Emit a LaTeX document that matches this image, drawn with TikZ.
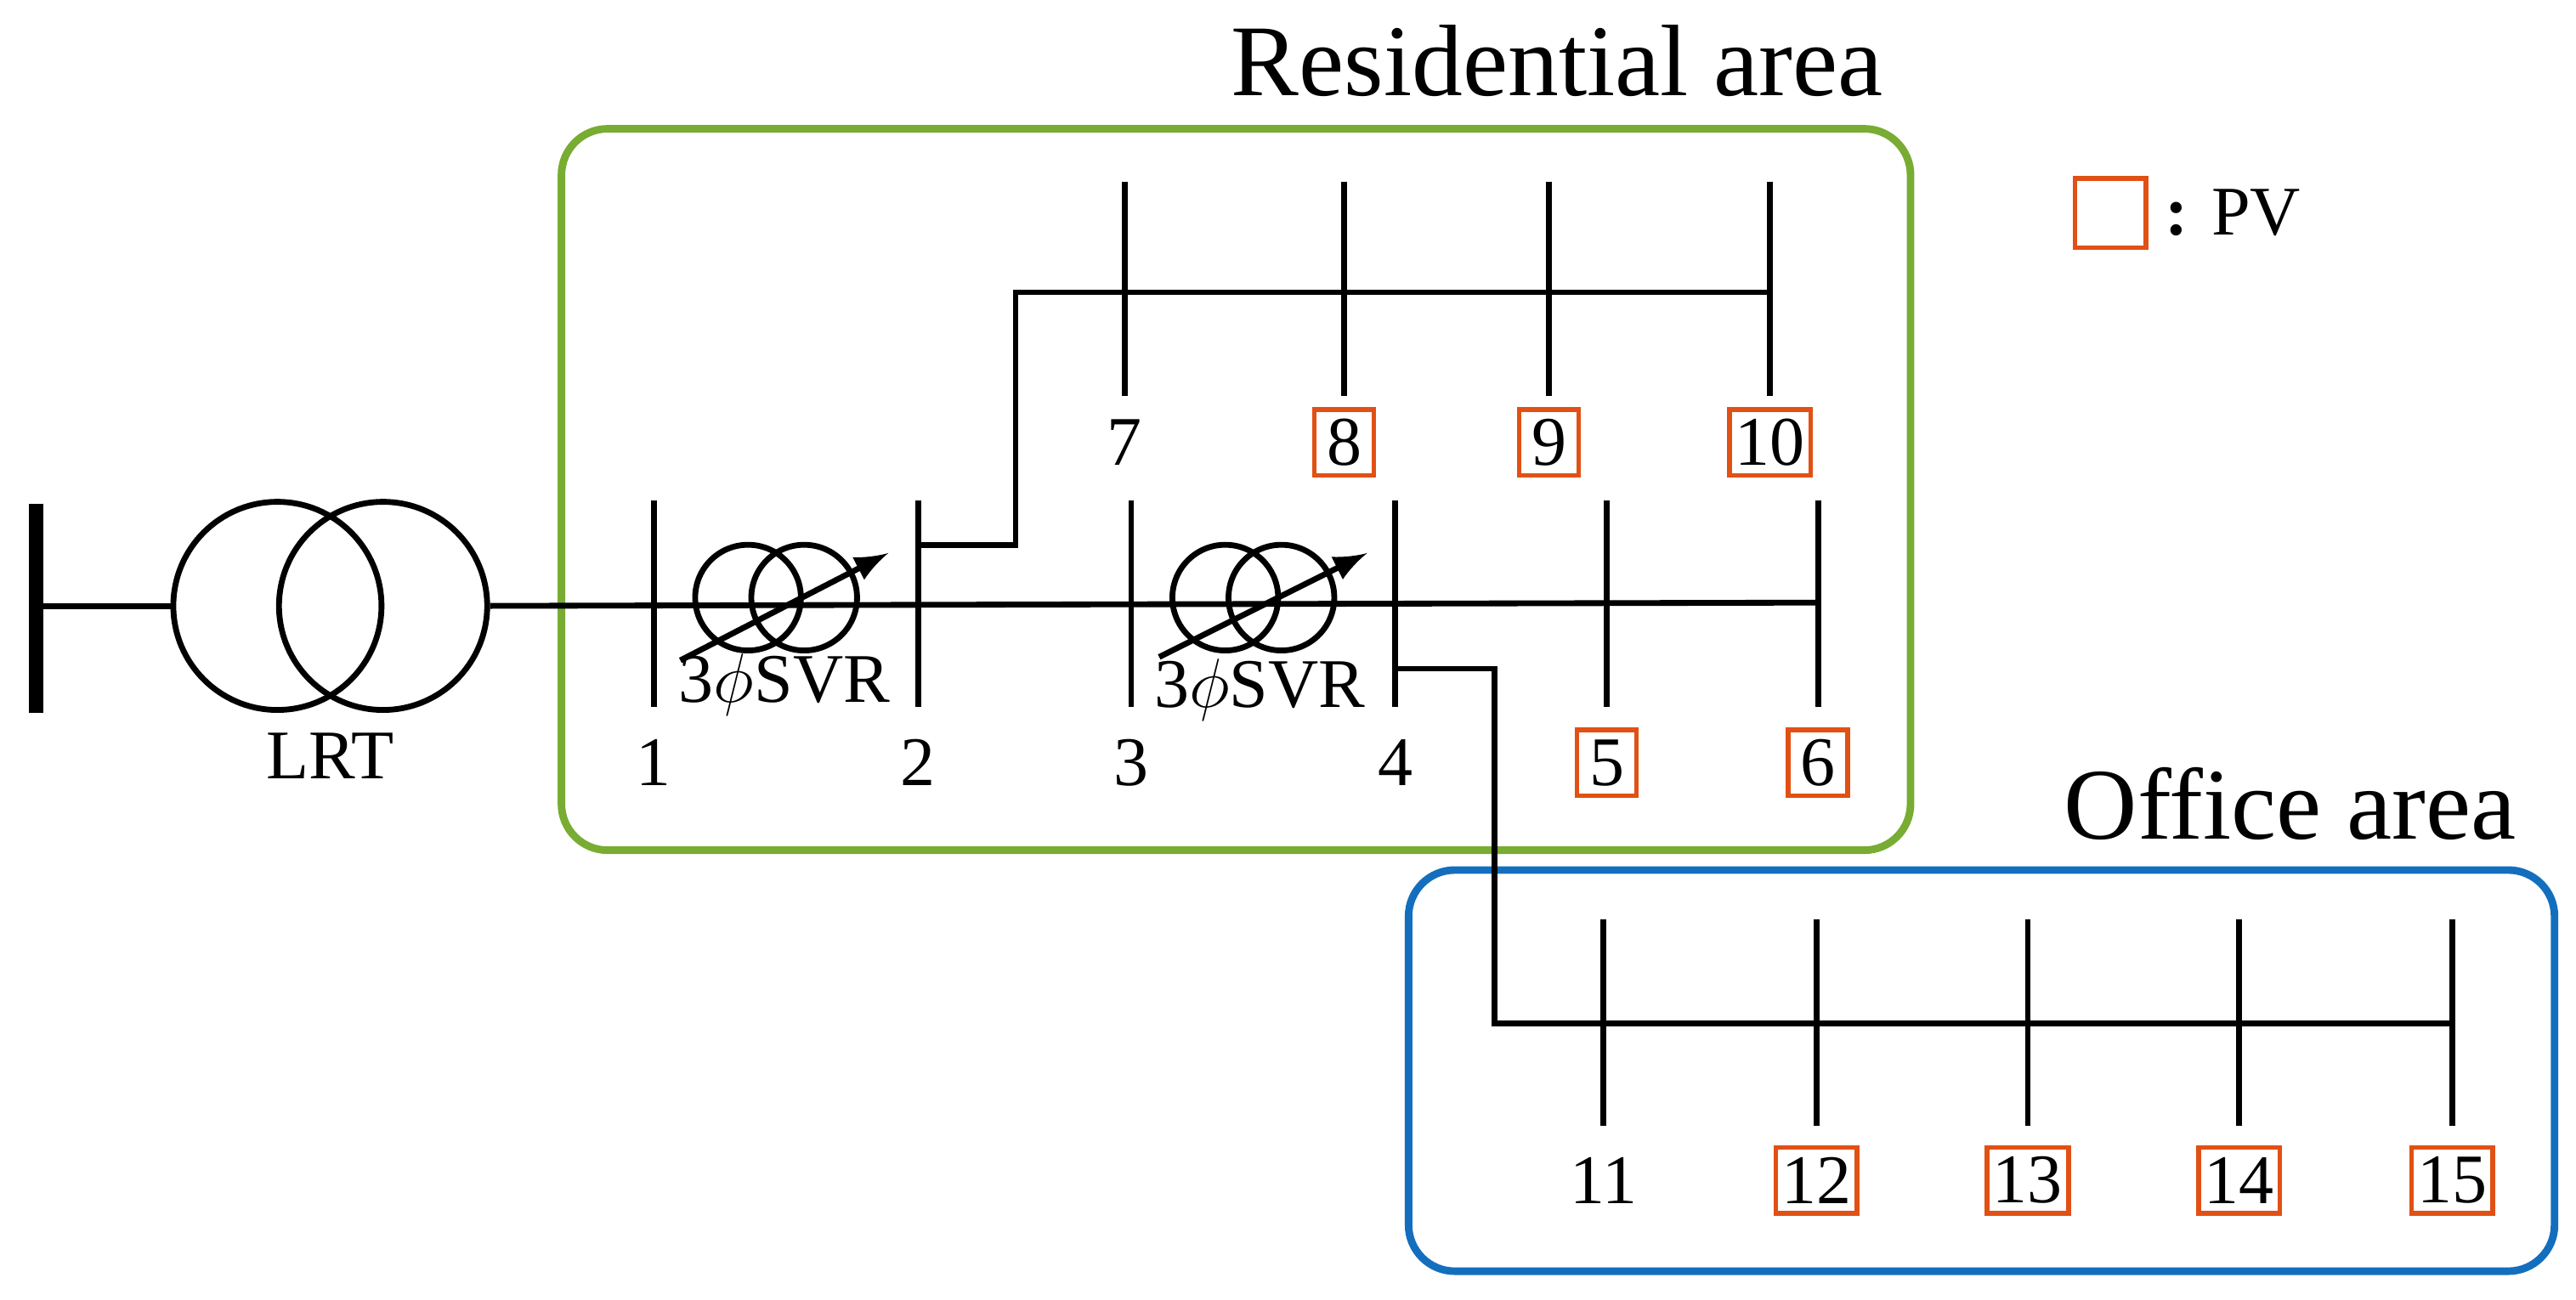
\documentclass[tikz,border=0pt]{standalone}
\usepackage{fontspec}
\setmainfont{Liberation Serif}
\begin{document}
\begin{tikzpicture}[x=0.01cm,y=-0.01cm,
  ln/.style={line width=1pt},
  bus/.style={line width=1pt},
  lab/.style={font=\fontsize{12}{14}\selectfont,inner sep=1pt},
  pv/.style={lab,draw=pvc,line width=0.8pt,minimum width=0.36cm,minimum height=0.40cm,inner sep=1pt},
  ttl/.style={font=\fontsize{17.5}{21}\selectfont},
  area/.style={line width=1.3pt,rounded corners=0.28cm}]
\definecolor{pvc}{RGB}{225,80,20}
\definecolor{grn}{RGB}{120,172,50}
\definecolor{blu}{RGB}{20,110,190}
\useasboundingbox (0,0) rectangle (1560,787);
% areas
\draw[area,grn] (340,78) rectangle (1157,515);
\draw[area,blu] (853,527) rectangle (1547,770);
\node[ttl] (tr) at (943,37) {Residential area};
\node[ttl] (to) at (1387,487) {Office area};
% legend
\node[pv,minimum width=0.43cm,minimum height=0.42cm] (leg) at (1278,129) {};
\node[lab,anchor=west] (legt) at (1307,129) {\textbf{:} PV};
% source
\draw[line width=2.5pt] (22,305) -- (22,432);
\coordinate (s) at (22,367);
\node[circle,draw,line width=1pt,minimum size=1.26cm] (c1) at (168,367) {};
\node[circle,draw,line width=1pt,minimum size=1.26cm] (c2) at (232,367) {};
\draw[ln] (s) -- (c1.west);
\node[lab] (lrt) at (200,458) {LRT};
% main line
\coordinate (m0) at (c2.east);
\coordinate (m1) at (1101,365);
\draw[ln] (m0) -- (m1);
% buses main
\foreach \n/\x in {1/396,2/556,3/685,4/845}{
  \draw[bus] (\x,303) -- (\x,428);
  \node[lab] (l\n) at (\x,462) {\n};}
\foreach \n/\x in {5/973,6/1101}{
  \draw[bus] (\x,303) -- (\x,428);
  \node[pv] (l\n) at (\x,462) {\n};}
% SVRs
\foreach \i/\x/\y in {a/453/362,b/742/362}{
  \node[circle,draw,line width=1pt,minimum size=0.64cm] (\i1) at (\x,\y) {};
  \node[circle,draw,line width=1pt,minimum size=0.64cm] (\i2) at (\x+34,\y) {};}
\draw[ln,-latex] (412,400) -- (538,335);
\draw[ln,-latex] (702,398) -- (828,335);
\node[lab] (sv1) at (475,415) {3$\phi$SVR};
\node[lab] (sv2) at (763,418) {3$\phi$SVR};
% top branch
\draw[ln] (556,330) -- (615,330) -- (615,177) -- (1072,177);
\foreach \x in {681,814,938,1072} \draw[bus] (\x,110) -- (\x,240);
\node[lab] (l7) at (681,268) {7};
\node[pv] (l8) at (814,268) {8};
\node[pv] (l9) at (938,268) {9};
\node[pv] (l10) at (1072,268) {10};
% office branch
\draw[ln] (845,405) -- (905,405) -- (905,620) -- (1485,620);
\foreach \x in {971,1100,1228,1356,1485} \draw[bus] (\x,557) -- (\x,682);
\node[lab] (l11) at (971,715) {11};
\node[pv] (l12) at (1100,715) {12};
\node[pv] (l13) at (1228,715) {13};
\node[pv] (l14) at (1356,715) {14};
\node[pv] (l15) at (1485,715) {15};
\end{tikzpicture}
\end{document}
